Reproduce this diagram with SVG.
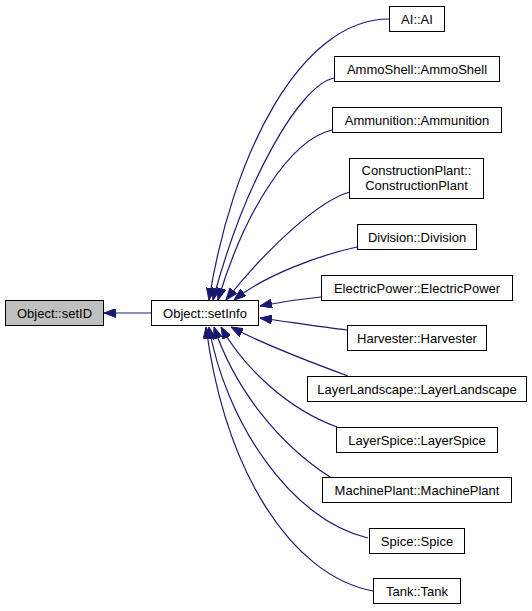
<svg xmlns="http://www.w3.org/2000/svg" width="532" height="611" viewBox="0 0 532 611">
<style>
.box{fill:#ffffff;stroke:#000000;stroke-width:1}
.root{fill:#bfbfbf;stroke:#000000;stroke-width:1}
text{font-family:"Liberation Sans",Arial,sans-serif;font-size:13px;fill:#000000;text-anchor:middle}
.edge{fill:none;stroke:#191970;stroke-width:1.2;marker-end:url(#ah)}
</style>
<defs>
<marker id="ah" markerWidth="12" markerHeight="9" refX="12" refY="4.5" orient="auto" markerUnits="userSpaceOnUse">
<path d="M0,0 L12,4.5 L0,9 z" fill="#191970" stroke="#191970" stroke-width="1"/>
</marker>
</defs>
<rect width="532" height="611" fill="#ffffff"/>
<g id="connectors">
<path class="edge" d="M151,313 L104,313"/>
<path class="edge" d="M389,19 C300,19 232,155 209,300"/>
<path class="edge" d="M334,78 C300,85 245,180 213,300"/>
<path class="edge" d="M332,130 C290,140 245,210 218,300"/>
<path class="edge" d="M350,192 C320,200 270,245 226,300"/>
<path class="edge" d="M357,247 C320,255 265,275 234,300"/>
<path class="edge" d="M321,297 C300,299 280,302 260,306"/>
<path class="edge" d="M347,330 C320,327 290,322 260,318"/>
<path class="edge" d="M348,376 C310,362 265,345 231,327"/>
<path class="edge" d="M337,427 C290,410 245,370 221,327"/>
<path class="edge" d="M330,477 C280,445 235,390 214,327"/>
<path class="edge" d="M368,538 C290,520 225,420 209,327"/>
<path class="edge" d="M373,591 C290,575 225,470 206,327"/>
</g>
<g id="node-setID"><rect class="root" x="5.5" y="300.5" width="98" height="25"/><text x="54.5" y="318">Object::setID</text></g>
<g id="node-setInfo"><rect class="box" x="151.5" y="300.5" width="107" height="25"/><text x="205" y="318">Object::setInfo</text></g>
<g id="node-AI"><rect class="box" x="389.5" y="6.5" width="55" height="25"/><text x="417" y="24">AI::AI</text></g>
<g id="node-AmmoShell"><rect class="box" x="334.5" y="56.5" width="165" height="25"/><text x="417" y="74">AmmoShell::AmmoShell</text></g>
<g id="node-Ammunition"><rect class="box" x="332.5" y="107.5" width="169" height="25"/><text x="417" y="125">Ammunition::Ammunition</text></g>
<g id="node-ConstructionPlant"><rect class="box" x="349.5" y="158.5" width="134" height="40"/><text x="416.5" y="175">ConstructionPlant::</text><text x="416.5" y="190">ConstructionPlant</text></g>
<g id="node-Division"><rect class="box" x="357.5" y="224.5" width="119" height="25"/><text x="417" y="242">Division::Division</text></g>
<g id="node-ElectricPower"><rect class="box" x="321.5" y="275.5" width="191" height="25"/><text x="417" y="293">ElectricPower::ElectricPower</text></g>
<g id="node-Harvester"><rect class="box" x="347.5" y="325.5" width="139" height="25"/><text x="417" y="343">Harvester::Harvester</text></g>
<g id="node-LayerLandscape"><rect class="box" x="307.5" y="376.5" width="219" height="25"/><text x="417" y="394">LayerLandscape::LayerLandscape</text></g>
<g id="node-LayerSpice"><rect class="box" x="336.5" y="427.5" width="161" height="25"/><text x="417" y="445">LayerSpice::LayerSpice</text></g>
<g id="node-MachinePlant"><rect class="box" x="322.5" y="477.5" width="189" height="25"/><text x="417" y="495">MachinePlant::MachinePlant</text></g>
<g id="node-Spice"><rect class="box" x="369.5" y="528.5" width="95" height="25"/><text x="417" y="546">Spice::Spice</text></g>
<g id="node-Tank"><rect class="box" x="373.5" y="578.5" width="87" height="25"/><text x="417" y="596">Tank::Tank</text></g>
</svg>
